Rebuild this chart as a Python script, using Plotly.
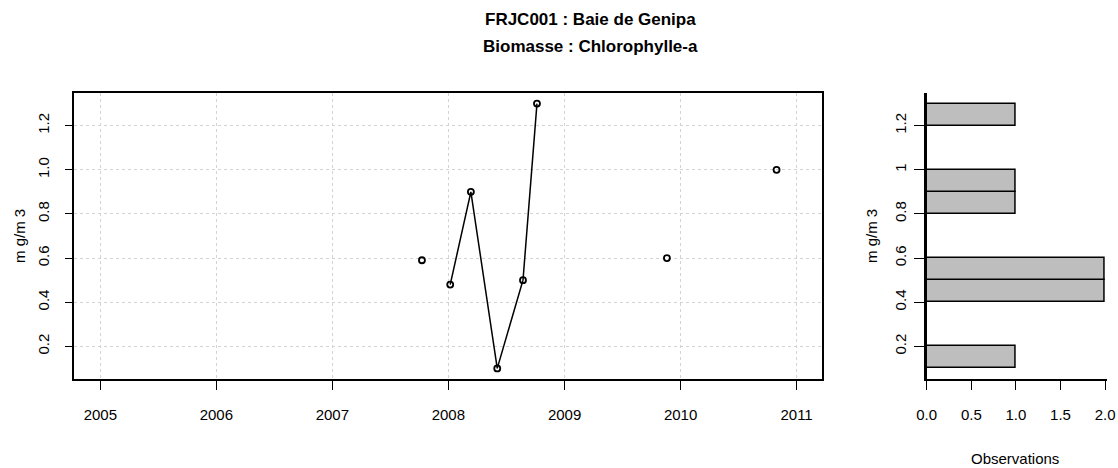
import numpy as np
import plotly.graph_objects as go

# Chlorophyll-a samples at FRJC001 (Baie de Genipa)
sample_dates = ["2007-10-10", "2008-01-07", "2008-03-12", "2008-06-03",
                "2008-08-23", "2008-10-06", "2009-11-19", "2010-10-30"]
chl_values = [0.59, 0.48, 0.90, 0.10, 0.50, 1.30, 0.60, 1.00]

year_ticks = [2005, 2006, 2007, 2008, 2009, 2010, 2011]
value_ticks = [0.2, 0.4, 0.6, 0.8, 1.0, 1.2]
hist_value_labels = ["0.2", "0.4", "0.6", "0.8", "1", "1.2"]
count_ticks = [0.0, 0.5, 1.0, 1.5, 2.0]

title_line1 = "FRJC001 : Baie de Genipa"
title_line2 = "Biomasse : Chlorophylle-a"
y_title = "m g/m 3"
x_hist_title = "Observations"

FONT = "Liberation Sans, Arial, sans-serif"
W, H = 1118, 468

# histogram of values, bins of 0.1 closed on the right (lowest included)
bin_width = 0.1
edges = np.round(np.arange(0.1, 1.3 + 1e-9, bin_width), 2)
vals = np.array(chl_values)
idx = np.ceil(np.round((vals - edges[0]) / bin_width, 6)).astype(int) - 1
idx = np.clip(idx, 0, len(edges) - 2)
counts = np.bincount(idx, minlength=len(edges) - 1)
mids = (edges[:-1] + edges[1:]) / 2

fig = go.Figure()

# lines join samples taken within the same calendar year
years = [d[:4] for d in sample_dates]
for yr in sorted(set(years)):
    xs = [d for d, y in zip(sample_dates, years) if y == yr]
    ys = [v for v, y in zip(chl_values, years) if y == yr]
    if len(xs) > 1:
        fig.add_trace(go.Scatter(x=xs, y=ys, mode="lines",
                                 line=dict(color="black", width=1.5),
                                 xaxis="x", yaxis="y", showlegend=False,
                                 hoverinfo="skip"))

fig.add_trace(go.Scatter(x=sample_dates, y=chl_values, mode="markers",
                         marker=dict(symbol="circle-open", size=6,
                                     color="black", line=dict(width=1.8)),
                         xaxis="x", yaxis="y", showlegend=False))

nz = counts > 0
fig.add_trace(go.Bar(x=counts[nz], y=mids[nz], orientation="h",
                     width=bin_width, base=0,
                     marker=dict(color="#bebebe",
                                 line=dict(color="black", width=1.5)),
                     xaxis="x2", yaxis="y2", showlegend=False))

ydom = [1 - 379 / H, 1 - 93 / H]
yrange = [0.052, 1.348]
tickfont = dict(family=FONT, size=15, color="black")

fig.update_layout(
    width=W, height=H,
    margin=dict(l=0, r=0, t=0, b=0, autoexpand=False),
    paper_bgcolor="white", plot_bgcolor="white",
    font=dict(family=FONT, color="black"),
    bargap=0,
    xaxis=dict(domain=[74 / W, 822 / W], type="date",
               range=["2004-10-10", "2011-03-22"],
               tickvals=[f"{y}-01-01" for y in year_ticks],
               ticktext=[str(y) for y in year_ticks],
               showgrid=True, gridcolor="#d3d3d3", griddash="dot", gridwidth=1,
               showline=True, linecolor="black", linewidth=1.5, mirror=True,
               ticks="outside", ticklen=9, tickwidth=1.2, tickcolor="black",
               tickfont=tickfont, ticklabelstandoff=12, zeroline=False,
               automargin=False),
    yaxis=dict(domain=ydom, range=yrange,
               tickvals=value_ticks, tickformat=".1f",
               showgrid=True, gridcolor="#d3d3d3", griddash="dot", gridwidth=1,
               showline=True, linecolor="black", linewidth=1.5, mirror=True,
               ticks="outside", ticklen=7, tickwidth=1.2, tickcolor="black",
               tickangle=-90, tickfont=tickfont, ticklabelstandoff=10,
               zeroline=False, automargin=False),
    xaxis2=dict(domain=[926.7 / W, (926.7 + 2.02 * 89.2) / W], anchor="y2",
                range=[0, 2.02], tickvals=count_ticks, tickformat=".1f",
                showgrid=False, showline=True, linecolor="black", linewidth=1.5,
                ticks="outside", ticklen=9, tickwidth=1.2, tickcolor="black",
                tickfont=tickfont, ticklabelstandoff=12, zeroline=False,
                automargin=False),
    yaxis2=dict(domain=ydom, anchor="x2", range=yrange,
                tickvals=value_ticks, ticktext=hist_value_labels,
                showgrid=False, showline=True, linecolor="black", linewidth=2.5,
                ticks="outside", ticklen=10, tickwidth=1.2, tickcolor="black",
                tickangle=-90, tickfont=tickfont, ticklabelstandoff=2,
                zeroline=False, automargin=False),
)

ymid = 1 - ((93 + 379) / 2) / H
annots = [
    dict(text=f"<b>{title_line1}</b>", x=590 / W, y=1 - 20 / H,
         font=dict(size=17)),
    dict(text=f"<b>{title_line2}</b>", x=590 / W, y=1 - 47 / H,
         font=dict(size=17)),
    dict(text=y_title, x=19 / W, y=ymid, textangle=-90, font=dict(size=15)),
    dict(text=y_title, x=871 / W, y=ymid, textangle=-90, font=dict(size=15)),
    dict(text=x_hist_title, x=1015 / W, y=1 - 458 / H, font=dict(size=15)),
]
for a in annots:
    fig.add_annotation(xref="paper", yref="paper", showarrow=False,
                       xanchor="center", yanchor="middle",
                       font=dict(family=FONT, color="black",
                                 size=a.pop("font")["size"]), **a)

fig.write_html("out.html")
